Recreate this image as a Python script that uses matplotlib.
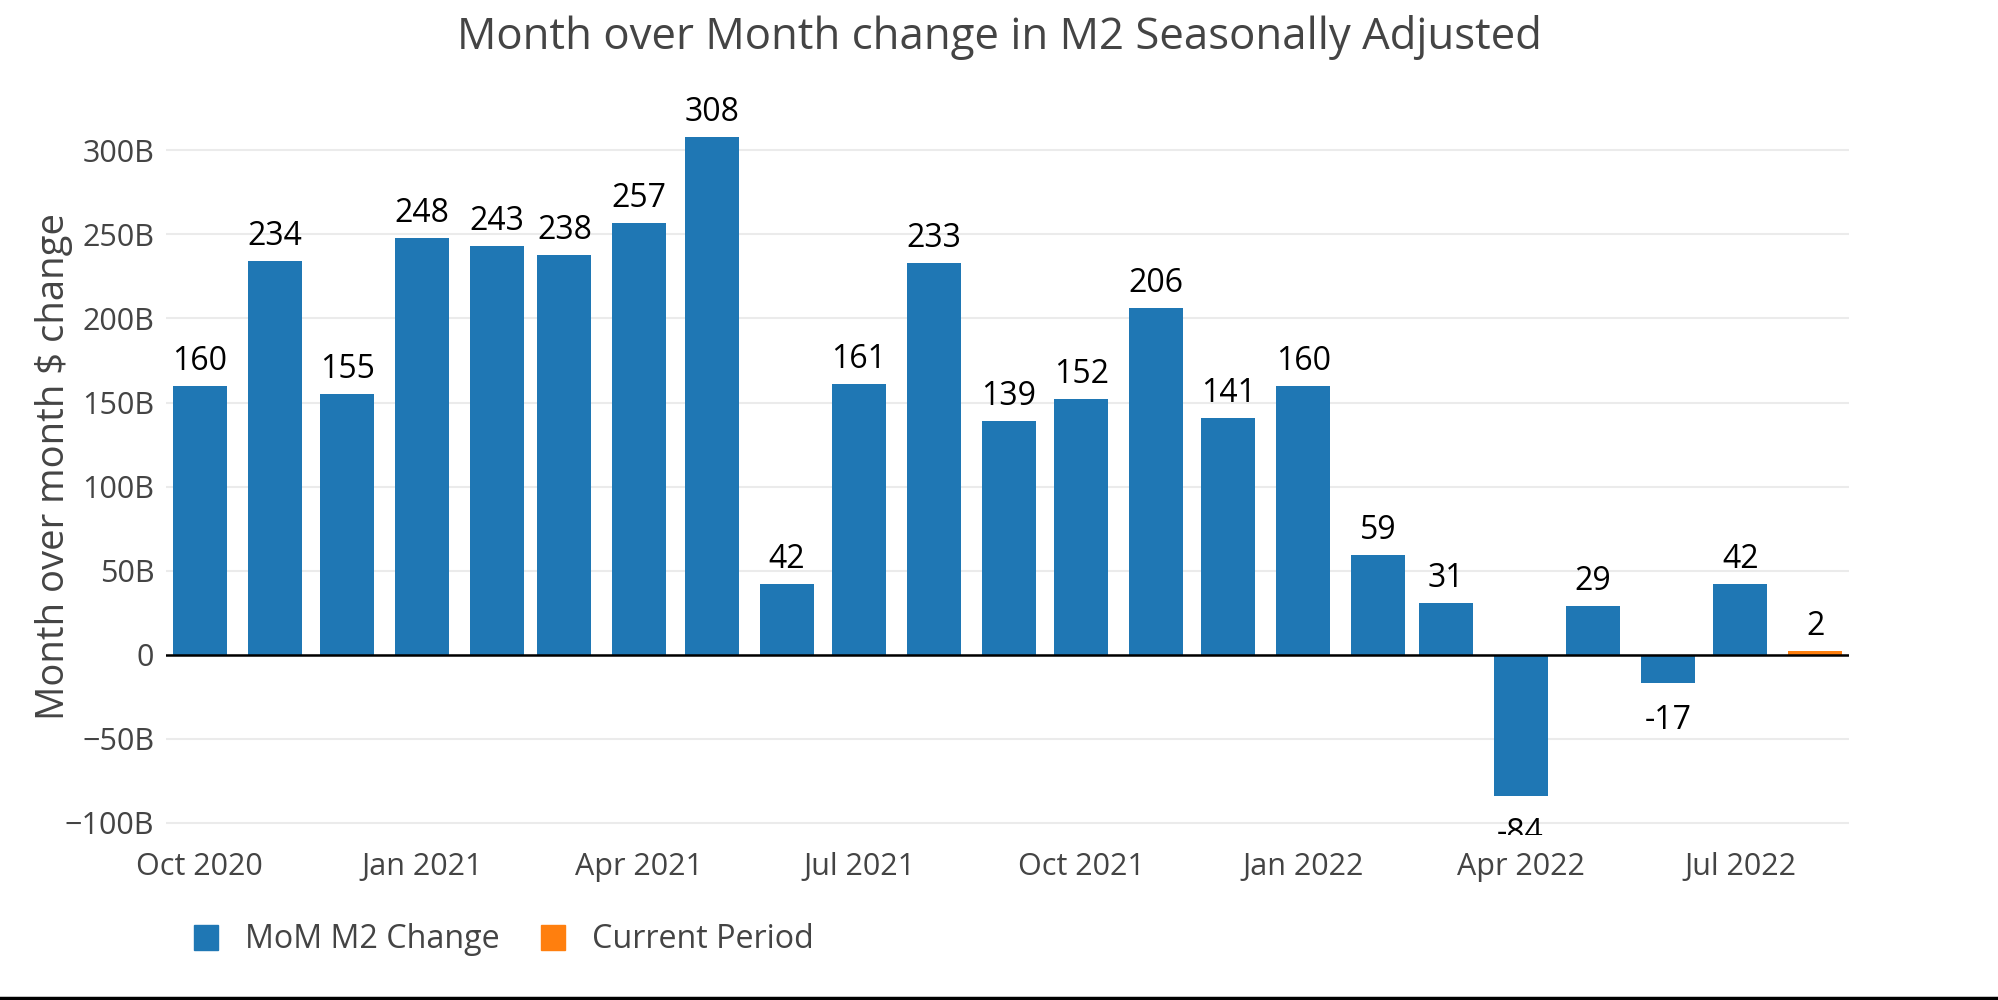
import datetime as dt
import matplotlib
matplotlib.use("Agg")
import matplotlib.pyplot as plt
import matplotlib.dates as mdates
import matplotlib.transforms as mtransforms
from matplotlib.patches import Patch
from matplotlib.lines import Line2D

plt.rcParams['font.family'] = ['Open Sans', 'DejaVu Sans']

# monthly change in M2, billions of dollars
months = ['2020-10', '2020-11', '2020-12', '2021-01', '2021-02', '2021-03',
          '2021-04', '2021-05', '2021-06', '2021-07', '2021-08', '2021-09',
          '2021-10', '2021-11', '2021-12', '2022-01', '2022-02', '2022-03',
          '2022-04', '2022-05', '2022-06', '2022-07', '2022-08']
mom_change = [160, 234, 155, 248, 243, 238, 257, 308, 42, 161, 233, 139,
              152, 206, 141, 160, 59, 31, -84, 29, -17, 42, 2]
current_idx = len(months) - 1

y_ticks = [-100, -50, 0, 50, 100, 150, 200, 250, 300]
y_ticklabels = ['\u2212100B', '\u221250B', '0', '50B', '100B', '150B', '200B', '250B', '300B']

dates = [dt.datetime.strptime(m, '%Y-%m') for m in months]

blue = '#1f77b4'
orange = '#ff7f0e'
grey_text = '#444444'

fig = plt.figure(figsize=(19.99, 10), dpi=100)
ax = fig.add_axes([166 / 1999, 0.165, (1849 - 166) / 1999, 0.735])

colors = [blue] * len(dates)
colors[current_idx] = orange
ax.bar(dates, mom_change, width=22.4, color=colors, zorder=3)

ax.axhline(0, color='black', linewidth=1.8, zorder=4)

# data labels (negative ones get cut off by the plot bottom, like the original)
up = mtransforms.offset_copy(ax.transData, fig=fig, y=16, units='dots')
down = mtransforms.offset_copy(ax.transData, fig=fig, y=-46, units='dots')
for d, v in zip(dates, mom_change):
    tr = up if v >= 0 else down
    ax.text(d, v, str(v), transform=tr, ha='center', va='baseline',
            fontsize=23, color='black', clip_on=(v < 0), zorder=5)

ax.set_xlim(dates[0] - dt.timedelta(days=14), dates[-1] + dt.timedelta(days=14))
ax.set_ylim(-107.3, 330)

ax.xaxis.set_major_locator(mdates.MonthLocator(bymonth=[1, 4, 7, 10]))
ax.xaxis.set_major_formatter(mdates.DateFormatter('%b %Y'))
ax.set_yticks(y_ticks)
ax.set_yticklabels(y_ticklabels)
ax.tick_params(axis='both', length=0, labelsize=22, labelcolor=grey_text)
ax.tick_params(axis='y', pad=8.5)
ax.tick_params(axis='x', pad=12)

ax.grid(axis='y', color='#ebebeb', linewidth=1.5, zorder=0)
for s in ax.spines.values():
    s.set_visible(False)

fig.text(0.5, 1 - 37 / 1000, 'Month over Month change in M2 Seasonally Adjusted',
         ha='center', va='center', fontsize=31.5, color=grey_text)
fig.text(54 / 1999, 1 - 466 / 1000, 'Month over month $ change', rotation=90,
         ha='center', va='center', fontsize=27.5, color=grey_text)

handles = [Patch(color=blue, label='MoM M2 Change'),
           Patch(color=orange, label='Current Period')]
fig.legend(handles=handles, loc='center left', bbox_to_anchor=(194 / 1999, 1 - 940 / 1000),
           ncol=2, frameon=False, fontsize=23.2, handlelength=0.73, handleheight=0.8,
           handletextpad=0.85, columnspacing=1.3, borderpad=0, borderaxespad=0,
           labelcolor=grey_text)

fig.add_artist(Line2D([0, 1], [0.002, 0.002], transform=fig.transFigure,
                      color='black', linewidth=2.5))

fig.savefig('out.png', dpi=100, facecolor='white')
